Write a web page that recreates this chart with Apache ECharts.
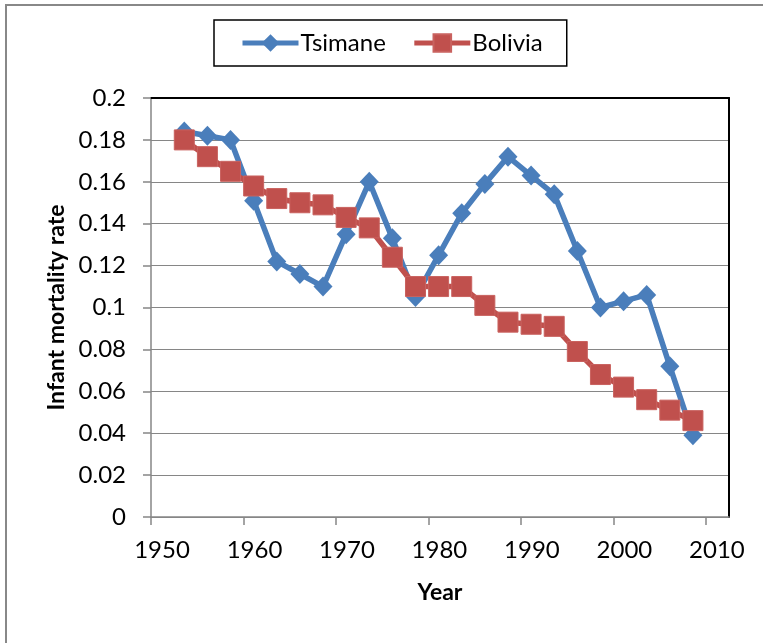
<!DOCTYPE html>
<html>
<head>
<meta charset="utf-8">
<script src="https://cdn.jsdelivr.net/npm/echarts@6/dist/echarts.min.js"></script>
<style>
  html, body { margin: 0; padding: 0; background: #fff; }
  #chart { width: 763px; height: 643px; }
</style>
</head>
<body>
<div id="chart"></div>
<script>
// Survey years (midpoints of 2.5-year periods)
const years = [1953.6, 1956.1, 1958.6, 1961.1, 1963.6, 1966.1, 1968.6, 1971.1, 1973.6, 1976.1,
               1978.6, 1981.1, 1983.6, 1986.1, 1988.6, 1991.1, 1993.6, 1996.1, 1998.6, 2001.1,
               2003.6, 2006.1, 2008.6];
// Infant mortality rate per series
const tsimane = [0.184, 0.182, 0.180, 0.151, 0.122, 0.116, 0.110, 0.135, 0.160, 0.133,
                 0.105, 0.125, 0.145, 0.159, 0.172, 0.163, 0.154, 0.127, 0.100, 0.103,
                 0.106, 0.072, 0.039];
const bolivia = [0.180, 0.172, 0.165, 0.158, 0.152, 0.150, 0.149, 0.143, 0.138, 0.124,
                 0.110, 0.110, 0.110, 0.101, 0.093, 0.092, 0.091, 0.079, 0.068, 0.062,
                 0.056, 0.051, 0.046];
const yearTicks = [1950, 1960, 1970, 1980, 1990, 2000, 2010];

const FONT = 'Lato';
const LABEL_SIZE = 24;
const TITLE_SIZE = 23;
const pair = (xs, ys) => xs.map((x, i) => [x, ys[i]]);

const chart = echarts.init(document.getElementById('chart'), null, { renderer: 'canvas' });

const gray = '#868686';
chart.setOption({
  animation: false,
  backgroundColor: '#fff',
  textStyle: { fontFamily: FONT },
  graphic: [{
    type: 'polyline',
    shape: { points: [[6, 643], [6, 5], [763, 5]] },
    style: { stroke: '#888', lineWidth: 2, fill: null }
  }],
  legend: {
    left: 214, top: 20,
    padding: [11, 24, 11, 26],
    borderColor: '#000', borderWidth: 1.5,
    itemWidth: 56, itemHeight: 22, itemGap: 26,
    lineStyle: { width: 5 },
    textStyle: { fontFamily: FONT, fontSize: LABEL_SIZE, color: '#000', padding: [0, 0, 0, -3] },
    data: ['Tsimane', 'Bolivia']
  },
  grid: { left: 151, top: 98, right: 34, bottom: 126, outerBoundsMode: 'none', containLabel: false },
  xAxis: [{
    type: 'value', min: 1950, max: 2012.5, interval: 10,
    name: 'Year', nameLocation: 'middle', nameGap: 64,
    nameTextStyle: { fontFamily: FONT, fontSize: TITLE_SIZE, fontWeight: 'bold', color: '#000' },
    axisLine: { show: true, lineStyle: { color: gray, width: 1.5 } },
    axisTick: { show: true, length: 8, lineStyle: { color: gray, width: 1.5 }, customValues: yearTicks },
    axisLabel: {
      fontFamily: FONT, fontSize: LABEL_SIZE, color: '#000', margin: 21, padding: [0, 0, 0, 22],
      customValues: yearTicks, formatter: v => String(v)
    },
    splitLine: { show: false }
  }, {
    type: 'value', position: 'top', min: 1950, max: 2012.5,
    axisLine: { show: true, onZero: false, lineStyle: { color: '#000', width: 2 } },
    axisTick: { show: false }, axisLabel: { show: false }, splitLine: { show: false }
  }],
  yAxis: [{
    type: 'value', min: 0, max: 0.2, interval: 0.02,
    name: 'Infant mortality rate', nameLocation: 'middle', nameGap: 83,
    nameTextStyle: { fontFamily: FONT, fontSize: TITLE_SIZE, fontWeight: 'bold', color: '#000' },
    axisLine: { show: true, lineStyle: { color: gray, width: 1.5 } },
    axisTick: { show: true, length: 8, lineStyle: { color: gray, width: 1.5 } },
    axisLabel: {
      fontFamily: FONT, fontSize: LABEL_SIZE, color: '#000', margin: 25,
      formatter: v => String(parseFloat(v.toFixed(2)))
    },
    splitLine: { show: true, lineStyle: { color: gray, width: 1.2 } }
  }, {
    type: 'value', position: 'right', min: 0, max: 0.2,
    axisLine: { show: true, onZero: false, lineStyle: { color: '#000', width: 2 } },
    axisTick: { show: false }, axisLabel: { show: false }, splitLine: { show: false }
  }],
  series: [{
    name: 'Tsimane', type: 'line',
    data: pair(years, tsimane),
    symbol: 'diamond', symbolSize: [19, 20],
    lineStyle: { color: '#4A7EBB', width: 5.5 },
    itemStyle: { color: '#4A7EBB', borderColor: '#4A7EBB', borderWidth: 0 },
    z: 3
  }, {
    name: 'Bolivia', type: 'line',
    data: pair(years, bolivia),
    symbol: 'rect', symbolSize: 20,
    lineStyle: { color: '#C0504D', width: 5.5 },
    itemStyle: { color: '#C0504D', borderColor: '#C9625F', borderWidth: 1 },
    z: 4
  }]
});
</script>
</body>
</html>
